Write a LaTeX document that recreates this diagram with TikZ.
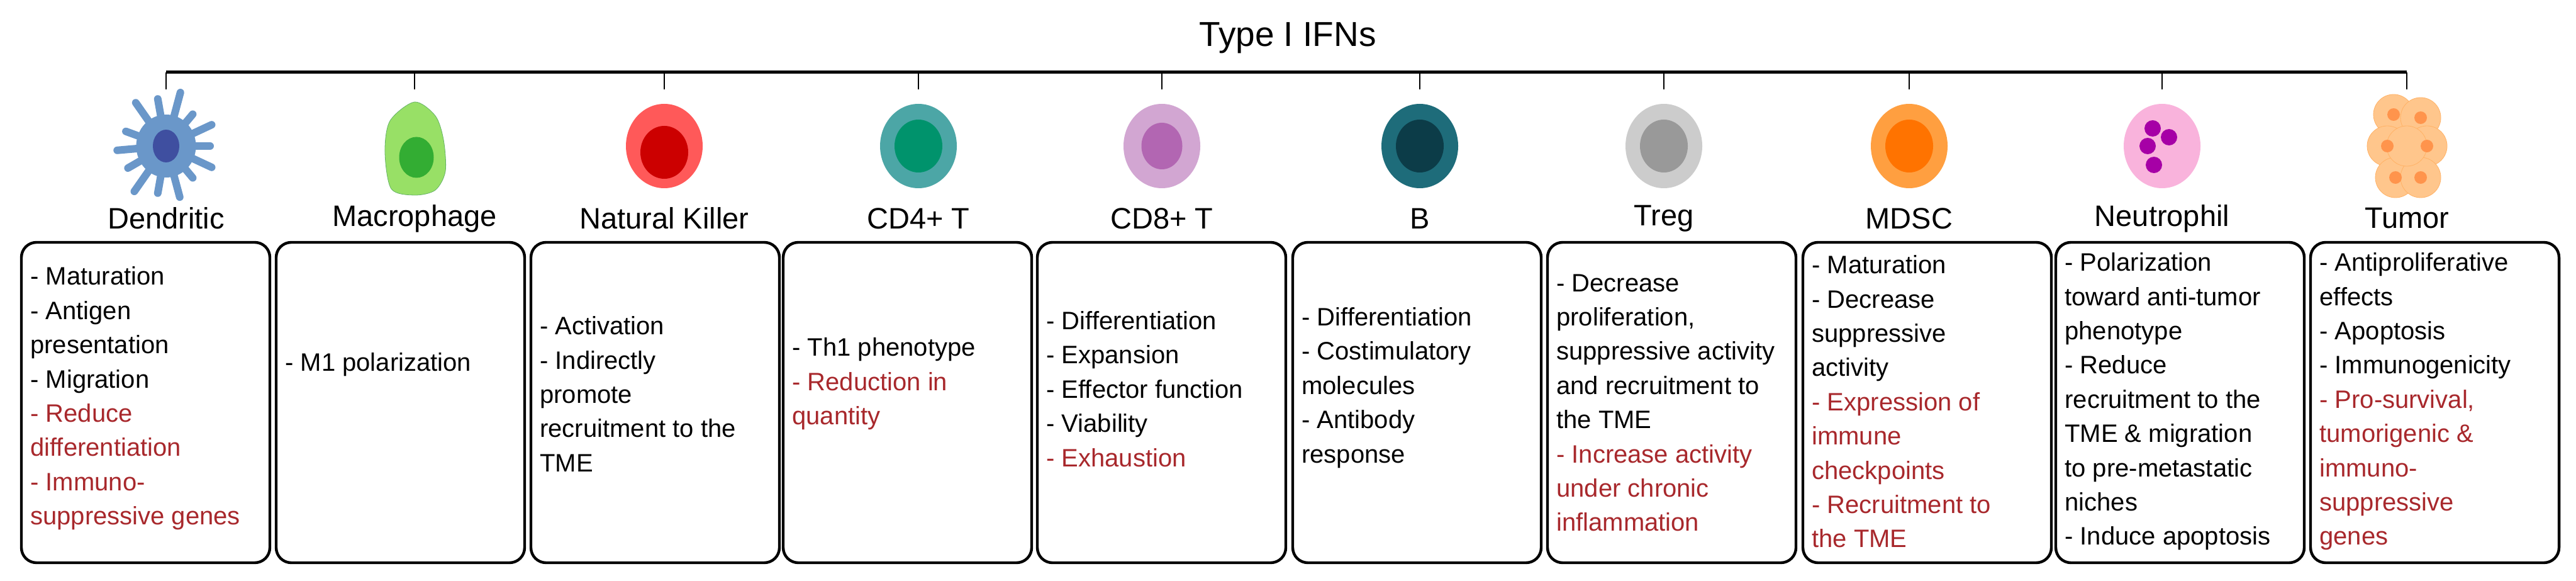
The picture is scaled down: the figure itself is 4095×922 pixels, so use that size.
\documentclass[tikz,border=0pt]{standalone}
\usepackage{fontspec}
\setmainfont{Liberation Sans}
\usetikzlibrary{positioning}
\definecolor{hurt}{RGB}{168,40,44}
\definecolor{dcbody}{RGB}{106,151,201}
\definecolor{dcnuc}{RGB}{63,79,160}
\definecolor{bbody}{RGB}{30,108,122}
\definecolor{bnuc}{RGB}{12,60,72}
\tikzset{
  cell/.style={ellipse, minimum width=122*0.5pt, minimum height=134*0.5pt, inner sep=0pt, draw=none},
  nuc/.style={ellipse, minimum width=76*0.5pt, minimum height=84*0.5pt, inner sep=0pt, draw=none},
  kind/.style={font=\fontsize{23.5}{28}\selectfont},
  fx/.style={anchor=west, align=left, inner sep=0pt, font=\fontsize{20}{27.2}\selectfont},
  panel/.style={draw=black, line width=2.2pt, rounded corners=12pt}
}
\usetikzlibrary{shapes.geometric}
\newcommand{\bad}[1]{\textcolor{hurt}{#1}}
\begin{document}
\begin{tikzpicture}[x=0.5pt, y=0.5pt]
 \useasboundingbox (0,0) rectangle (4095,922);
 % title and bracket
 \node[font=\fontsize{27.5}{32}\selectfont] (ifn) at (2047,862) {Type I IFNs};
 \coordinate (barL) at (264,807);
 \coordinate (barR) at (3826,807);
 \draw[line width=2.5pt] (barL) -- (barR);

 % cells
 \foreach \a/\l in {0/30,25/40,50/26,75/48,100/36,125/44,160/28,185/38,210/30,235/48,260/36,285/44,310/26,335/40}
   \draw[dcbody, line width=6pt, line cap=round] (264,690) -- ++(\a:\l+40);
 \node[cell, fill=dcbody, minimum width=95*0.5pt, minimum height=100*0.5pt] (dc) at (264,690) {};
 \node[nuc, fill=dcnuc, minimum width=42*0.5pt, minimum height=52*0.5pt] at (dc) {};

 \coordinate (mp) at (659,690);
 \fill[green!45!lime!80!black!60!white, draw=green!50!black!60] plot[smooth cycle] coordinates
   {(659,760) (692,738) (705,700) (708,650) (692,620) (659,612) (622,622) (612,680) (620,730)};
 \node[nuc, fill=green!60!black!80, minimum width=55*0.5pt, minimum height=65*0.5pt] at (662,672) {};

 \node[cell, fill=red!65!white] (nk) at (1056,690) {};
 \node[nuc, fill=red!80!black] at ([yshift=-5]nk) {};

 \node[cell, fill=teal!70!white] (cd4) at (1460,690) {};
 \node[nuc, fill=teal!85!green] at (cd4) {};

 \node[cell, fill=violet!35!white] (cd8) at (1847,690) {};
 \node[nuc, fill=violet!60!white, minimum width=65*0.5pt, minimum height=74*0.5pt] at (cd8) {};

 \node[cell, fill=bbody] (bc) at (2257,690) {};
 \node[nuc, fill=bnuc] at (bc) {};

 \node[cell, fill=gray!40] (treg) at (2645,690) {};
 \node[nuc, fill=gray!80] at (treg) {};

 \node[cell, fill=orange!75!white] (mdsc) at (3035,690) {};
 \node[nuc, fill=orange!90!red] at (mdsc) {};

 \node[cell, fill=magenta!30!white] (neu) at (3437,690) {};
 \foreach \p in {(3422,718),(3414,690),(3424,660),(3448,704)}
   \fill[violet!70!magenta] \p circle (13);

 \coordinate (tum) at (3826,690);
 \foreach \p in {(3805,740),(3848,735),(3795,690),(3858,690),(3808,640),(3848,640),(3826,690)}
   \fill[orange!45!white, draw=orange!60!white] \p circle (32);
 \foreach \p in {(3805,740),(3848,735),(3795,690),(3858,690),(3808,640),(3848,640)}
   \fill[orange!80!red!70] \p circle (10);
 \node[cell] (tumor) at (tum) {};

 % ticks
 \foreach \c in {dc,nk,cd4,cd8,bc,treg,mdsc,neu,tumor}
   \draw[line width=1pt] (barL -| \c) -- ++(0,-27);
 \draw[line width=1pt] (barL -| mp) -- ++(0,-27);

 % names
 \node[kind] (ndc) at (264,575) {Dendritic};
 \node[kind] (nmp) at (659,575) {Macrophage};
 \node[kind] (nnk) at (1056,575) {Natural Killer};
 \node[kind] (ncd4) at (1460,575) {CD4+ T};
 \node[kind] (ncd8) at (1847,575) {CD8+ T};
 \node[kind] (nbc) at (2257,575) {B};
 \node[kind] (ntreg) at (2645,575) {Treg};
 \node[kind] (nmdsc) at (3035,575) {MDSC};
 \node[kind] (nneu) at (3437,575) {Neutrophil};
 \node[kind] (ntum) at (3826,575) {Tumor};

 % panels
 \foreach \l in {34,439,844,1245,1649,2055,2460,2866,3268,3673}
   \draw[panel] (\l,537) rectangle ++(395,-509);

 \node[fx] (tdc) at (48,289) {- Maturation\\- Antigen\\presentation\\- Migration\\\bad{- Reduce}\\\bad{differentiation}\\\bad{- Immuno-}\\\bad{suppressive genes}};
 \node[fx] (tmp) at (453,343) {- M1 polarization};
 \node[fx] (tnk) at (858,296) {- Activation\\- Indirectly\\promote\\recruitment to the\\TME};
 \node[fx] (tcd4) at (1259,312) {- Th1 phenotype\\\bad{- Reduction in}\\\bad{quantity}};
 \node[fx] (tcd8) at (1663,304) {- Differentiation\\- Expansion\\- Effector function\\- Viability\\\bad{- Exhaustion}};
 \node[fx] (tbc) at (2069,306) {- Differentiation\\- Costimulatory\\molecules\\- Antibody\\response};
 \node[fx] (ttreg) at (2474,282) {- Decrease\\proliferation,\\suppressive activity\\and recruitment to\\the TME\\\bad{- Increase activity}\\\bad{under chronic}\\\bad{inflammation}};
 \node[fx] (tmdsc) at (2880,284) {- Maturation\\- Decrease\\suppressive\\activity\\\bad{- Expression of}\\\bad{immune}\\\bad{checkpoints}\\\bad{- Recruitment to}\\\bad{the TME}};
 \node[fx] (tneu) at (3282,284) {- Polarization\\toward anti-tumor\\phenotype\\- Reduce\\recruitment to the\\TME \& migration\\to pre-metastatic\\niches\\- Induce apoptosis};
 \node[fx] (ttum) at (3687,284) {- Antiproliferative\\effects\\- Apoptosis\\- Immunogenicity\\\bad{- Pro-survival,}\\\bad{tumorigenic \&}\\\bad{immuno-}\\\bad{suppressive}\\\bad{genes}};
\end{tikzpicture}
\end{document}
